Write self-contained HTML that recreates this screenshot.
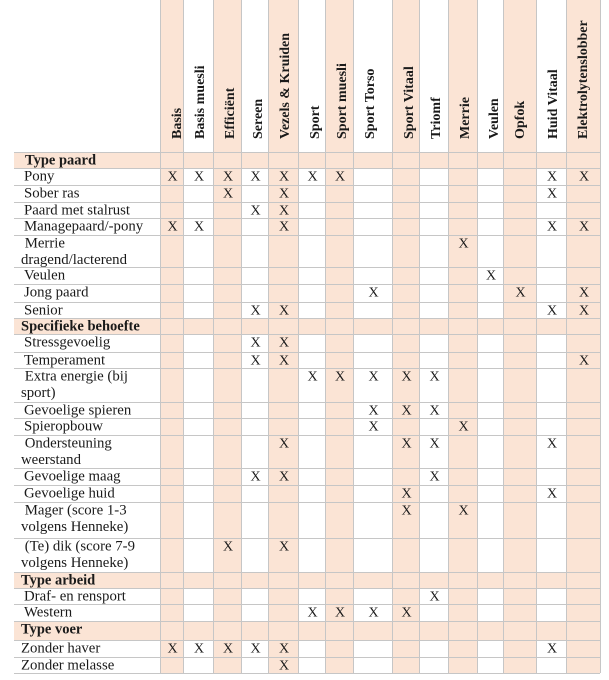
<!DOCTYPE html>
<html><head><meta charset="utf-8"><style>
html,body{margin:0;padding:0;background:#fff;}
svg{display:block;}
text{font-family:"Liberation Serif",serif;fill:#1a1a1a;}
</style></head><body>
<svg width="609" height="680" viewBox="0 0 609 680" xmlns="http://www.w3.org/2000/svg" id="s"></svg>
<script>
var E=[160,183,213,241,268,298,325,353,392,419,448,477,503,536,566,600];
var H=["Basis","Basis muesli","Efficiënt","Sereen","Vezels &amp; Kruiden","Sport","Sport muesli","Sport Torso","Sport Vitaal","Triomf","Merrie","Veulen","Opfok","Huid Vitaal","Elektrolytenslobber"];
var R=[
[152,168,1,["Type paard"],[],25],
[168,185,0,["Pony"],[0,1,2,3,4,5,6,13,14],24],
[185,202,0,["Sober ras"],[2,4,13],24],
[202,218,0,["Paard met stalrust"],[3,4],24],
[218,235,0,["Managepaard/-pony"],[0,1,4,13,14],24],
[235,267,0,[" Merrie","dragend/lacterend"],[10],21],
[267,284,0,["Veulen"],[11],24],
[284,302,0,["Jong paard"],[7,12,14],24],
[302,318,0,["Senior"],[3,4,13,14],24],
[318,334,1,["Specifieke behoefte"],[],21],
[334,352,0,["Stressgevoelig"],[3,4],24],
[352,368,0,["Temperament"],[3,4,14],24],
[368,402,0,[" Extra energie (bij","sport)"],[5,6,7,8,9],21],
[402,418,0,["Gevoelige spieren"],[7,8,9],24],
[418,435,0,["Spieropbouw"],[7,10],24],
[435,468,0,[" Ondersteuning","weerstand"],[4,8,9,13],21],
[468,485,0,["Gevoelige maag"],[3,4,9],24],
[485,502,0,["Gevoelige huid"],[8,13],24],
[502,538,0,[" Mager (score 1-3","volgens Henneke)"],[8,10],21],
[538,572,0,[" (Te) dik (score 7-9","volgens Henneke)"],[2,4],21],
[572,588,1,["Type arbeid"],[],21],
[588,604,0,["Draf- en rensport"],[9],24],
[604,621,0,["Western"],[5,6,7,8],24],
[621,640,1,["Type voer"],[],21],
[640,657,0,["Zonder haver"],[0,1,2,3,4,13],21],
[657,673,0,["Zonder melasse"],[4],21]
];
var o='',sh='#fbe4d5',ln='#c6c6c6';
for(var i=0;i<15;i+=2){o+='<rect x="'+E[i]+'" y="0" width="'+(E[i+1]-E[i])+'" height="673" fill="'+sh+'"/>';}
R.forEach(function(r){if(r[2])o+='<rect x="14" y="'+r[0]+'" width="586" height="'+(r[1]-r[0])+'" fill="'+sh+'"/>';});
for(var i=0;i<E.length;i++){
 o+='<line x1="'+(E[i]+.5)+'" y1="0" x2="'+(E[i]+.5)+'" y2="673" stroke="'+ln+'"/>';}
R.forEach(function(r){o+='<line x1="14" y1="'+(r[0]+.5)+'" x2="600" y2="'+(r[0]+.5)+'" stroke="'+ln+'"/>';});
o+='<line x1="14" y1="673.5" x2="600" y2="673.5" stroke="'+ln+'"/>';
for(var i=0;i<15;i++){o+='<text transform="translate('+(E[i]+21)+',139) rotate(-90)" font-size="14" font-weight="bold">'+H[i]+'</text>';}
R.forEach(function(r){
 r[3].forEach(function(t,k){
  var x=(k==0&&r[3].length>1)?21:r[5];
  o+='<text x="'+x+'" y="'+(r[0]+12.5+k*16.5)+'" font-size="'+(r[2]?14.5:14.8)+'"'+(r[2]?' font-weight="bold"':'')+'>'+t.replace(/^ /,'\u00a0')+'</text>';});
 r[4].forEach(function(c){o+='<text x="'+((E[c]+E[c+1])/2+1)+'" y="'+(r[0]+12.5)+'" font-size="14" text-anchor="middle">X</text>';});
});
document.getElementById('s').innerHTML=o;
</script>
</body></html>
